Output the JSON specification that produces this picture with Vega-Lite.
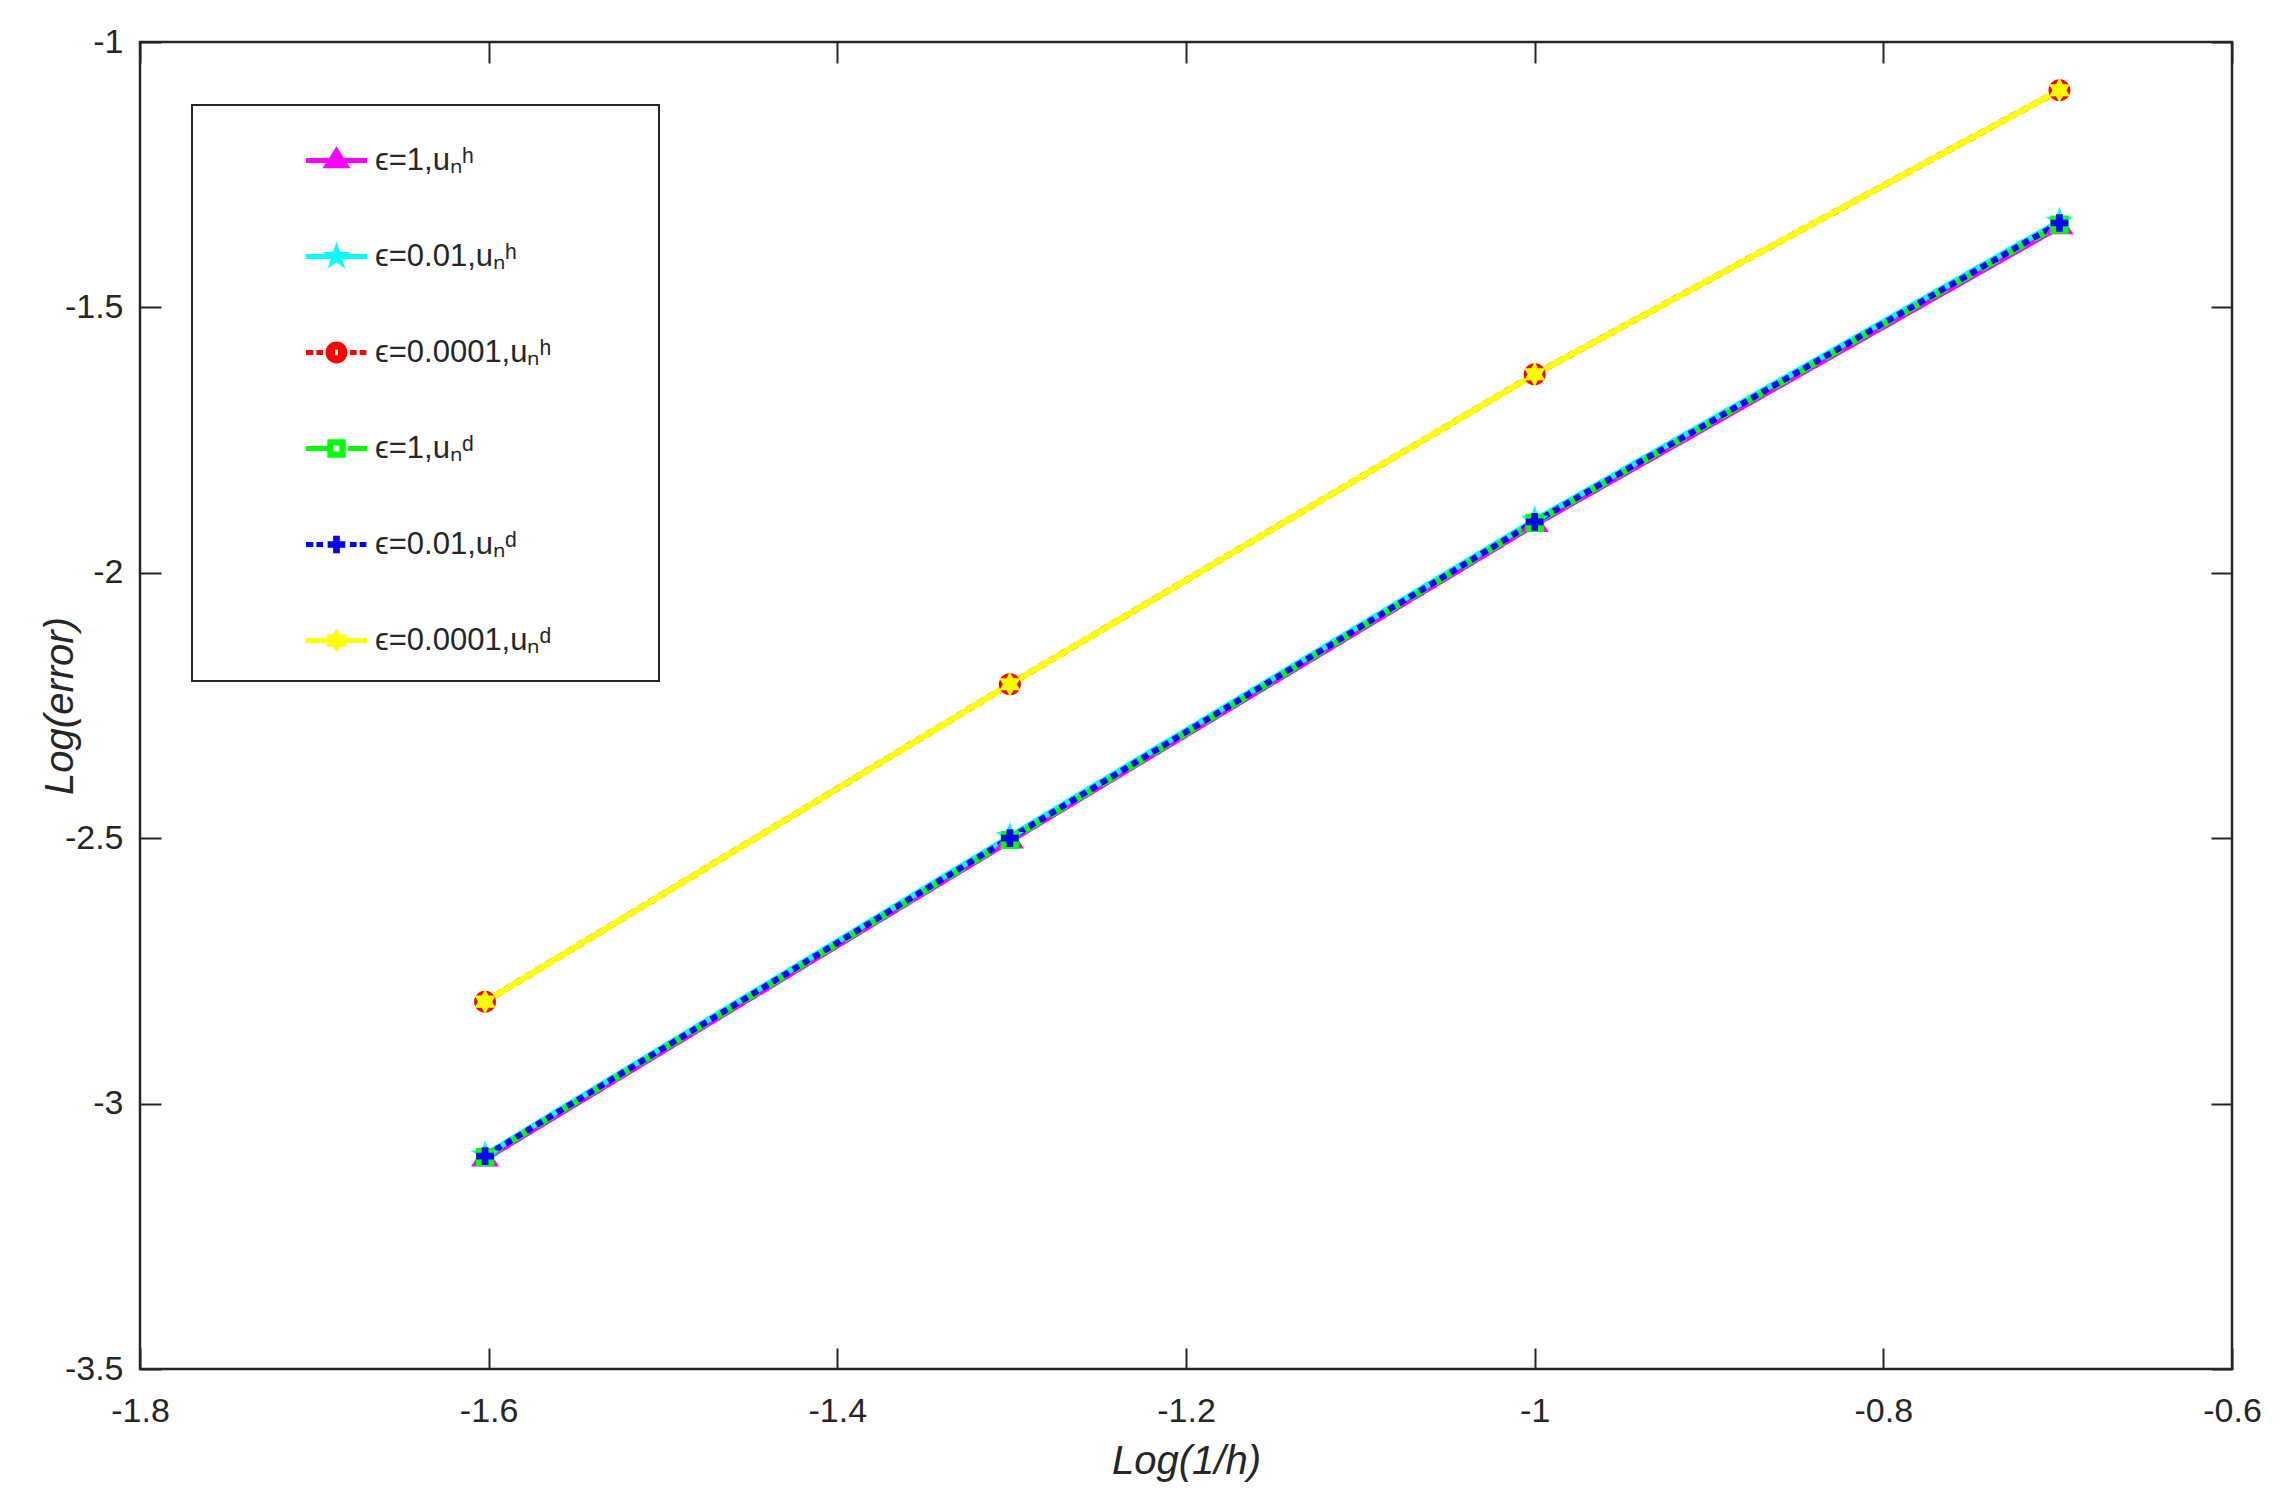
{
  "$schema": "https://vega.github.io/schema/vega-lite/v6.json",
  "width": 2092,
  "height": 1327,
  "autosize": {"type": "none"},
  "padding": {"left": 140, "top": 42, "right": 50, "bottom": 132},
  "background": "white",
  "data": {
    "values": [
      {"series": "ϵ=1,uₙʰ", "x": -1.60206, "y": -3.104},
      {"series": "ϵ=1,uₙʰ", "x": -1.30103, "y": -2.505},
      {"series": "ϵ=1,uₙʰ", "x": -1.0, "y": -1.909},
      {"series": "ϵ=1,uₙʰ", "x": -0.69897, "y": -1.348},
      {"series": "ϵ=0.01,uₙʰ", "x": -1.60206, "y": -3.097},
      {"series": "ϵ=0.01,uₙʰ", "x": -1.30103, "y": -2.497},
      {"series": "ϵ=0.01,uₙʰ", "x": -1.0, "y": -1.901},
      {"series": "ϵ=0.01,uₙʰ", "x": -0.69897, "y": -1.338},
      {"series": "ϵ=0.0001,uₙʰ", "x": -1.60206, "y": -2.808},
      {"series": "ϵ=0.0001,uₙʰ", "x": -1.30103, "y": -2.21},
      {"series": "ϵ=0.0001,uₙʰ", "x": -1.0, "y": -1.626},
      {"series": "ϵ=0.0001,uₙʰ", "x": -0.69897, "y": -1.091},
      {"series": "ϵ=1,uₙᵈ", "x": -1.60206, "y": -3.101},
      {"series": "ϵ=1,uₙᵈ", "x": -1.30103, "y": -2.503},
      {"series": "ϵ=1,uₙᵈ", "x": -1.0, "y": -1.906},
      {"series": "ϵ=1,uₙᵈ", "x": -0.69897, "y": -1.344},
      {"series": "ϵ=0.01,uₙᵈ", "x": -1.60206, "y": -3.099},
      {"series": "ϵ=0.01,uₙᵈ", "x": -1.30103, "y": -2.5},
      {"series": "ϵ=0.01,uₙᵈ", "x": -1.0, "y": -1.904},
      {"series": "ϵ=0.01,uₙᵈ", "x": -0.69897, "y": -1.341},
      {"series": "ϵ=0.0001,uₙᵈ", "x": -1.60206, "y": -2.808},
      {"series": "ϵ=0.0001,uₙᵈ", "x": -1.30103, "y": -2.21},
      {"series": "ϵ=0.0001,uₙᵈ", "x": -1.0, "y": -1.626},
      {"series": "ϵ=0.0001,uₙᵈ", "x": -0.69897, "y": -1.091}
    ]
  },
  "layer": [
    {
      "mark": {"type": "point", "filled": true, "opacity": 0, "strokeWidth": 0, "size": 3721, "clip": false},
      "encoding": {
        "x": {
          "field": "x", "type": "quantitative",
          "axis": {
            "orient": "top", "values": [-1.8, -1.6, -1.4, -1.2, -1, -0.8, -0.6],
            "labels": false, "title": null, "grid": false, "domain": false,
            "tickSize": -21, "tickWidth": 2, "tickColor": "#262626"
          }
        },
        "y": {
          "field": "y", "type": "quantitative",
          "axis": {
            "orient": "right", "values": [-3.5, -3, -2.5, -2, -1.5, -1],
            "labels": false, "title": null, "grid": false, "domain": false,
            "tickSize": -21, "tickWidth": 2, "tickColor": "#262626"
          }
        },
        "color": {
          "field": "series", "type": "nominal",
          "scale": {
            "domain": ["ϵ=1,uₙʰ", "ϵ=0.01,uₙʰ", "ϵ=0.0001,uₙʰ", "ϵ=1,uₙᵈ", "ϵ=0.01,uₙᵈ", "ϵ=0.0001,uₙᵈ"],
            "range": ["#ff00ff", "#00ffff", "#ff0000", "#00ff00", "#0000ff", "#ffff00"]
          },
          "legend": {
            "orient": "none", "legendX": 52, "legendY": 63,
            "title": " ", "titleOrient": "right", "titlePadding": 83, "titleFontSize": 31,
            "padding": 25, "symbolOffset": 89, "symbolSize": 3721, "symbolStrokeWidth": 0, "symbolOpacity": 1,
            "labelOffset": 8, "labelFont": "Liberation Sans", "labelFontSize": 31, "labelColor": "#262626", "labelLimit": 600,
            "rowPadding": 50, "strokeColor": "#262626", "fillColor": "white", "cornerRadius": 0
          }
        },
        "shape": {
          "field": "series", "type": "nominal",
          "scale": {
            "domain": ["ϵ=1,uₙʰ", "ϵ=0.01,uₙʰ", "ϵ=0.0001,uₙʰ", "ϵ=1,uₙᵈ", "ϵ=0.01,uₙᵈ", "ϵ=0.0001,uₙᵈ"],
            "range": [
              "M-1,-0.08H1V0.08H-1ZM0,-0.47L0.46,0.25L-0.46,0.25Z",
              "M-1,-0.08H1V0.08H-1ZM0,-0.49L0.112,-0.154L0.466,-0.151L0.181,0.059L0.288,0.396L0,0.19L-0.288,0.396L-0.181,0.059L-0.466,-0.151L-0.112,-0.154Z",
              "M-1,-0.08H-0.76V0.08H-1ZM-0.66,-0.08H-0.44V0.08H-0.66ZM0.44,-0.08H0.66V0.08H0.44ZM0.76,-0.08H0.98V0.08H0.76ZM-0.36,0A0.36,0.36 0 1,1 0.36,0A0.36,0.36 0 1,1 -0.36,0ZM-0.05,-0.09V0.09H0.05V-0.09Z",
              "M-1,-0.08H-0.3V0.08H-1ZM0.38,-0.08H1V0.08H0.38ZM-0.3,-0.3H0.3V0.3H-0.3ZM-0.1,-0.1V0.1H0.1V-0.1Z",
              "M-1,-0.08H-0.76V0.08H-1ZM-0.66,-0.08H-0.44V0.08H-0.66ZM0.44,-0.08H0.66V0.08H0.44ZM0.76,-0.08H0.98V0.08H0.76ZM-0.11,-0.29H0.11V-0.11H0.29V0.11H0.11V0.29H-0.11V0.11H-0.29V-0.11H-0.11Z",
              "M-1,-0.08H1V0.08H-1ZM0,-0.4L0.115,-0.199L0.346,-0.2L0.23,0L0.346,0.2L0.115,0.199L0,0.4L-0.115,0.199L-0.346,0.2L-0.23,0L-0.346,-0.2L-0.115,-0.199Z"
            ]
          },
          "legend": null
        }
      }
    },
    {
      "mark": {"type": "line", "strokeWidth": 6, "clip": false},
      "encoding": {
        "x": {
          "field": "x", "type": "quantitative",
          "scale": {"domain": [-1.8, -0.6], "nice": false, "zero": false},
          "axis": {
            "orient": "bottom",
            "values": [-1.8, -1.6, -1.4, -1.2, -1, -0.8, -0.6],
            "labelExpr": "'' + datum.value",
            "title": "Log(1/h)",
            "grid": false, "domain": false,
            "tickSize": -21, "tickWidth": 2, "tickColor": "#262626",
            "labelPadding": 46, "labelFont": "Liberation Sans", "labelFontSize": 34, "labelColor": "#262626",
            "labelFlush": false, "labelOverlap": false,
            "titleFont": "Liberation Sans", "titleFontSize": 40, "titleFontStyle": "italic", "titleFontWeight": "normal",
            "titleColor": "#262626", "titleX": 1046, "titleY": 104, "titleBaseline": "alphabetic", "titleAlign": "center"
          }
        },
        "y": {
          "field": "y", "type": "quantitative",
          "scale": {"domain": [-3.5, -1], "nice": false, "zero": false},
          "axis": {
            "orient": "left",
            "values": [-3.5, -3, -2.5, -2, -1.5, -1],
            "labelExpr": "'' + datum.value",
            "title": "Log(error)",
            "grid": false, "domain": false,
            "tickSize": -21, "tickWidth": 2, "tickColor": "#262626",
            "labelPadding": 38, "labelFont": "Liberation Sans", "labelFontSize": 34, "labelColor": "#262626",
            "labelFlush": false, "labelOverlap": false,
            "titleFont": "Liberation Sans", "titleFontSize": 40, "titleFontStyle": "italic", "titleFontWeight": "normal",
            "titleColor": "#262626", "titleX": -68, "titleY": 663.5, "titleAngle": 270, "titleBaseline": "alphabetic", "titleAlign": "center"
          }
        },
        "color": {"field": "series", "type": "nominal"},
        "strokeDash": {
          "field": "series", "type": "nominal",
          "scale": {
            "domain": ["ϵ=1,uₙʰ", "ϵ=0.01,uₙʰ", "ϵ=0.0001,uₙʰ", "ϵ=1,uₙᵈ", "ϵ=0.01,uₙᵈ", "ϵ=0.0001,uₙᵈ"],
            "range": [[1, 0], [1, 0], [7, 5], [20, 10], [7, 5], [1, 0]]
          },
          "legend": null
        }
      }
    },
    {
      "transform": [{"filter": "datum.series === 'ϵ=1,uₙʰ'"}],
      "mark": {"type": "point", "filled": true, "opacity": 1, "strokeWidth": 0, "size": 3721, "color": "#ff00ff", "clip": false,
               "shape": "M0,-0.47L0.46,0.25L-0.46,0.25Z"},
      "encoding": {"x": {"field": "x", "type": "quantitative", "axis": null}, "y": {"field": "y", "type": "quantitative", "axis": null}}
    },
    {
      "transform": [{"filter": "datum.series === 'ϵ=0.01,uₙʰ'"}],
      "mark": {"type": "point", "filled": true, "opacity": 1, "strokeWidth": 0, "size": 3721, "color": "#00ffff", "clip": false,
               "shape": "M0,-0.49L0.112,-0.154L0.466,-0.151L0.181,0.059L0.288,0.396L0,0.19L-0.288,0.396L-0.181,0.059L-0.466,-0.151L-0.112,-0.154Z"},
      "encoding": {"x": {"field": "x", "type": "quantitative", "axis": null}, "y": {"field": "y", "type": "quantitative", "axis": null}}
    },
    {
      "transform": [{"filter": "datum.series === 'ϵ=0.0001,uₙʰ'"}],
      "mark": {"type": "point", "filled": true, "opacity": 1, "strokeWidth": 0, "size": 3721, "color": "#ff0000", "clip": false,
               "shape": "M-0.36,0A0.36,0.36 0 1,1 0.36,0A0.36,0.36 0 1,1 -0.36,0ZM-0.05,-0.09V0.09H0.05V-0.09Z"},
      "encoding": {"x": {"field": "x", "type": "quantitative", "axis": null}, "y": {"field": "y", "type": "quantitative", "axis": null}}
    },
    {
      "transform": [{"filter": "datum.series === 'ϵ=1,uₙᵈ'"}],
      "mark": {"type": "point", "filled": true, "opacity": 1, "strokeWidth": 0, "size": 3721, "color": "#00ff00", "clip": false,
               "shape": "M-0.3,-0.3H0.3V0.3H-0.3ZM-0.1,-0.1V0.1H0.1V-0.1Z"},
      "encoding": {"x": {"field": "x", "type": "quantitative", "axis": null}, "y": {"field": "y", "type": "quantitative", "axis": null}}
    },
    {
      "transform": [{"filter": "datum.series === 'ϵ=0.01,uₙᵈ'"}],
      "mark": {"type": "point", "filled": true, "opacity": 1, "strokeWidth": 0, "size": 3721, "color": "#0000ff", "clip": false,
               "shape": "M-0.11,-0.29H0.11V-0.11H0.29V0.11H0.11V0.29H-0.11V0.11H-0.29V-0.11H-0.11Z"},
      "encoding": {"x": {"field": "x", "type": "quantitative", "axis": null}, "y": {"field": "y", "type": "quantitative", "axis": null}}
    },
    {
      "transform": [{"filter": "datum.series === 'ϵ=0.0001,uₙᵈ'"}],
      "mark": {"type": "point", "filled": true, "opacity": 1, "strokeWidth": 0, "size": 3721, "color": "#ffff00", "clip": false,
               "shape": "M0,-0.4L0.115,-0.199L0.346,-0.2L0.23,0L0.346,0.2L0.115,0.199L0,0.4L-0.115,0.199L-0.346,0.2L-0.23,0L-0.346,-0.2L-0.115,-0.199Z"},
      "encoding": {"x": {"field": "x", "type": "quantitative", "axis": null}, "y": {"field": "y", "type": "quantitative", "axis": null}}
    }
  ],
  "resolve": {"axis": {"x": "independent", "y": "independent"}},
  "config": {
    "view": {"stroke": "#262626", "strokeWidth": 2.5},
    "font": "Liberation Sans",
    "legend": {"strokeWidth": 2}
  }
}
